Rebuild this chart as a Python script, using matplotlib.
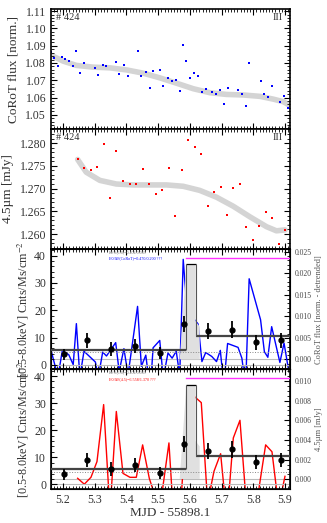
import matplotlib
matplotlib.use("Agg")
from matplotlib import pyplot as plt
from matplotlib.ticker import MultipleLocator, FormatStrFormatter

plt.rcParams['font.family'] = ['Liberation Serif', 'DejaVu Serif']
plt.rcParams['mathtext.fontset'] = 'stix'

# CoRoT photometry (panel 1)
t_corot = [5.163, 5.172, 5.184, 5.198, 5.207, 5.218, 5.232, 5.242, 5.253, 5.266,
           5.302, 5.311, 5.325, 5.337, 5.366, 5.377, 5.392, 5.405, 5.435, 5.447,
           5.461, 5.475, 5.484, 5.505, 5.516, 5.531, 5.544, 5.557, 5.568, 5.579,
           5.588, 5.600, 5.614, 5.626, 5.638, 5.650, 5.669, 5.684, 5.696, 5.707,
           5.719, 5.752, 5.764, 5.776, 5.787, 5.823, 5.835, 5.846, 5.858, 5.884,
           5.897, 5.911]
flux_corot = [1.0863, 1.0828, 1.0785, 1.0834, 1.0822, 1.0811, 1.0780, 1.0869, 1.0743, 1.0801,
              1.0770, 1.0733, 1.0791, 1.0781, 1.0807, 1.0737, 1.0787, 1.0723, 1.0871, 1.0727,
              1.0747, 1.0657, 1.0752, 1.0758, 1.0665, 1.0714, 1.0694, 1.0702, 1.0640, 1.0902,
              1.0809, 1.0714, 1.0743, 1.0727, 1.0634, 1.0650, 1.0634, 1.0618, 1.0642, 1.0560,
              1.0655, 1.0644, 1.0618, 1.0552, 1.0799, 1.0698, 1.0620, 1.0603, 1.0669, 1.0574,
              1.0611, 1.0537]
resid_corot = [0.0019, -0.0007, -0.0040, 0.0022, 0.0016, 0.0011, -0.0012, 0.0083, -0.0041, 0.0019,
               -0.0006, -0.0042, 0.0017, 0.0008, 0.0039, -0.0028, 0.0025, -0.0036, 0.0123, -0.0016,
               0.0010, -0.0073, 0.0027, 0.0044, -0.0043, 0.0015, 0.0003, 0.0019, -0.0037, 0.0232,
               0.0144, 0.0055, 0.0093, 0.0082, -0.0005, 0.0016, 0.0007, -0.0005, 0.0021, -0.0059,
               0.0037, 0.0028, 0.0003, -0.0062, 0.0187, 0.0092, 0.0018, 0.0005, 0.0076, -0.0007,
               0.0038, -0.0023]
fit_corot_t = [5.163, 5.200, 5.242, 5.295, 5.347, 5.400, 5.453, 5.505, 5.558, 5.611,
               5.663, 5.716, 5.768, 5.821, 5.863, 5.895, 5.914]
fit_corot = [1.0844, 1.0811, 1.0786, 1.0776, 1.0772, 1.0760, 1.0741, 1.0714, 1.0683, 1.0651,
             1.0628, 1.0618, 1.0615, 1.0607, 1.0591, 1.0576, 1.0556]

# Spitzer 4.5um photometry (panel 2)
t_spitzer = [5.246, 5.267, 5.288, 5.307, 5.328, 5.348, 5.368, 5.389, 5.411, 5.431,
             5.451, 5.472, 5.492, 5.513, 5.534, 5.554, 5.574, 5.595, 5.615, 5.636,
             5.656, 5.676, 5.697, 5.717, 5.737, 5.758, 5.778, 5.799, 5.819, 5.839,
             5.859, 5.880, 5.900]
flux_spitzer = [1.2764, 1.2745, 1.2740, 1.2748, 1.2797, 1.2679, 1.2782, 1.2716, 1.2710, 1.2710,
                1.2743, 1.2709, 1.2689, 1.2696, 1.2745, 1.2640, 1.2740, 1.2807, 1.2791, 1.2775,
                1.2661, 1.2692, 1.2704, 1.2641, 1.2701, 1.2710, 1.2615, 1.2586, 1.2617, 1.2648,
                1.2636, 1.2579, 1.2608]
resid_spitzer = [0.0001, -0.0005, 0.0002, 0.0018, 0.0076, -0.0033, 0.0069, 0.0006, 0.0002, 0.0002,
                 0.0035, 0.0001, -0.0019, -0.0012, 0.0037, -0.0066, -0.0012, 0.0093, 0.0084, 0.0078,
                 -0.0024, 0.0008, 0.0026, -0.0040, 0.0042, 0.0060, -0.0025, -0.0060, -0.0007, 0.0035,
                 0.0028, -0.0028, 0.0003]
fit_spitzer_t = [5.246, 5.273, 5.316, 5.368, 5.421, 5.474, 5.526, 5.579, 5.631, 5.684,
                 5.737, 5.789, 5.842, 5.873, 5.900]
fit_spitzer = [1.2764, 1.2736, 1.2718, 1.2710, 1.2708, 1.2708, 1.2708, 1.2705, 1.2696, 1.2681,
               1.2661, 1.2638, 1.2616, 1.2607, 1.2609]

# X-ray rates (panels 3, 4)
t_xray = [5.202, 5.275, 5.352, 5.427, 5.505, 5.580, 5.658, 5.734, 5.809, 5.886]
rate_xray = [3.8, 9.0, 5.7, 7.0, 4.3, 15.0, 12.3, 12.9, 8.3, 9.0]
err_xray = [2.0, 2.7, 2.5, 2.6, 2.2, 3.0, 3.0, 3.0, 2.7, 2.7]
block_edges = [5.162, 5.589, 5.618, 5.916]
block_rates = [5.6, 36.8, 10.6]
flare_t = [5.568, 5.589, 5.618, 5.618, 5.631, 5.631]
flare_top = [2.0, 36.8, 36.8, 16.0, 14.0, 2.0]
quiescent = 4.6
flare_line = 39.2

xlim = (5.162, 5.916)


def style(ax, minor_y, right=True):
    ax.set_xlim(*xlim)
    ax.xaxis.set_major_locator(MultipleLocator(0.1))
    ax.xaxis.set_minor_locator(MultipleLocator(0.01))
    ax.yaxis.set_minor_locator(MultipleLocator(minor_y))
    ax.tick_params(which='both', direction='in', top=True, right=right, labelsize=8.5,
                   labelcolor='#333333')
    ax.tick_params(which='major', length=4, width=0.8)
    ax.tick_params(which='minor', length=2, width=0.6)
    for s in ax.spines.values():
        s.set_linewidth(1.2)


fig = plt.figure(figsize=(3.27, 5.23), dpi=100)
L, W = 0.156, 0.731
ax1 = fig.add_axes([L, 0.7533, W, 0.2294])
ax2 = fig.add_axes([L, 0.5239, W, 0.2294])
ax3 = fig.add_axes([L, 0.2935, W, 0.2304])
ax4 = fig.add_axes([L, 0.0650, W, 0.2285])

# panel 1
ax1.plot(fit_corot_t, fit_corot, color='#d4d4d4', lw=4, solid_capstyle='round', zorder=1)
ax1.plot(t_corot, flux_corot, 's', color='blue', ms=1.9, mew=0, zorder=2)
ax1.set_ylim(1.0418, 1.1112)
ax1.yaxis.set_major_locator(MultipleLocator(0.01))
ax1.yaxis.set_major_formatter(FormatStrFormatter('%.2f'))
style(ax1, 0.002)
ax1.tick_params(labelbottom=False)
ax1.set_ylabel('CoRoT flux [norm.]', fontsize=9.5, color='#333333')
ax1.text(0.02, 0.97, '# 424', transform=ax1.transAxes, fontsize=7.5, va='top', color='#333333')
ax1.text(0.97, 0.97, 'III', transform=ax1.transAxes, fontsize=7.5, va='top', ha='right', color='#333333')

# panel 2
ax2.plot(fit_spitzer_t, fit_spitzer, color='#d4d4d4', lw=4, solid_capstyle='round', zorder=1)
ax2.plot(t_spitzer, flux_spitzer, 's', color='red', ms=1.9, mew=0, zorder=2)
ax2.set_ylim(1.2567, 1.2831)
ax2.yaxis.set_major_locator(MultipleLocator(0.005))
ax2.yaxis.set_major_formatter(FormatStrFormatter('%.3f'))
style(ax2, 0.001)
ax2.tick_params(labelbottom=False)
ax2.set_ylabel('4.5µm [mJy]', fontsize=9.5, color='#333333')
ax2.text(0.02, 0.97, '# 424', transform=ax2.transAxes, fontsize=7.5, va='top', color='#333333')
ax2.text(0.97, 0.97, 'III', transform=ax2.transAxes, fontsize=7.5, va='top', ha='right', color='#333333')

# panels 3 and 4
panels = [
    (ax3, t_corot, resid_corot, 'blue', (-0.00233, 0.0256), 0.005, 0.001,
     'CoRoT flux [norm. - detrended]', 'E0/ΔF(CoRoT)=0.470/0.200 ???'),
    (ax4, t_spitzer, resid_spitzer, 'red', (-0.00099, 0.01117), 0.002, 0.0005,
     '4.5µm [mJy]', 'E0/ΔF(4.5)=6.558/1.370 ???'),
]
for ax, t, r, col, rlim, rmaj, rmin, rlabel, txt in panels:
    ax.fill(flare_t, flare_top, facecolor='#e0e0e0', edgecolor='none', zorder=0)
    ax.axhline(0, color='#bbbbbb', lw=0.8, zorder=0)
    ax.axhline(quiescent, color='#888888', lw=0.7, ls=':', zorder=0)
    # Bayesian-block levels: thick grey bars, thin black connectors
    ax.hlines([block_rates[0], block_rates[2]], [block_edges[0], block_edges[2]],
              [block_edges[1], block_edges[3]], color='#444444', lw=1.6, zorder=3)
    ax.hlines(block_rates[1], block_edges[1], block_edges[2], color='black', lw=0.9, zorder=3)
    ax.vlines(block_edges[1], block_rates[0], block_rates[1], color='#555555', lw=0.8, zorder=3)
    ax.vlines(block_edges[2], block_rates[2], block_rates[1], color='#555555', lw=0.8, zorder=3)
    ax.plot([block_edges[1], xlim[1]], [flare_line, flare_line], color='#ff33ff', lw=1, zorder=3)
    ax.errorbar(t_xray, rate_xray, yerr=err_xray, fmt='o', color='black', ms=3.5,
                elinewidth=1.3, capsize=0, zorder=5)
    ax.set_ylim(-1.7, 42.4)
    ax.yaxis.set_major_locator(MultipleLocator(10))
    style(ax, 2, right=False)
    ax.set_ylabel('[0.5-8.0keV] Cnts/Ms/cm$^{-2}$', fontsize=8.7, color='#333333', labelpad=2)
    ax.text(5.345, 41.3, 'E0/A(1.0)=0.404/0.089', fontsize=3, color='#777777', va='center')
    ax.text(5.345, 39.0, txt, fontsize=3, color=col, va='center')

    tw = ax.twinx()
    tw.axhline(0, color='#bbbbbb', lw=0.8, zorder=0)
    tw.plot(t, r, color=col, lw=1, zorder=2)
    tw.set_ylim(*rlim)
    tw.yaxis.set_major_locator(MultipleLocator(rmaj))
    tw.yaxis.set_minor_locator(MultipleLocator(rmin))
    tw.yaxis.set_major_formatter(FormatStrFormatter('%.3f'))
    tw.tick_params(which='both', direction='in', labelsize=5.5, labelcolor='#444444')
    tw.tick_params(which='major', length=4, width=0.8)
    tw.tick_params(which='minor', length=2, width=0.6)
    tw.set_ylabel(rlabel, fontsize=6, color='#555555', labelpad=2)
    ax.set_zorder(tw.get_zorder() + 1)
    ax.patch.set_visible(False)

ax3.tick_params(labelbottom=False)
ax4.set_xlabel('MJD - 55898.1', fontsize=9.5, color='#333333', labelpad=1)

fig.savefig('out.png', dpi=100)
